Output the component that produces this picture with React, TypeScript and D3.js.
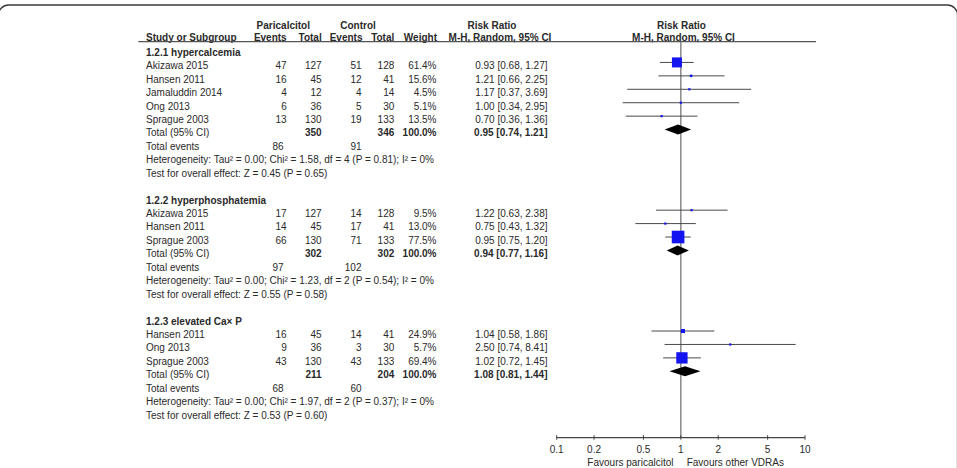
import React from "react";
import * as d3 from "d3";

// Subgroups and their studies
const groupTitles = ["1.2.1 hypercalcemia", "1.2.2 hyperphosphatemia", "1.2.3 elevated Ca× P"];
const studyNames = [
  ["Akizawa 2015", "Hansen 2011", "Jamaluddin 2014", "Ong 2013", "Sprague 2003"],
  ["Akizawa 2015", "Hansen 2011", "Sprague 2003"],
  ["Hansen 2011", "Ong 2013", "Sprague 2003"],
];
const paricalcitolEvents = [[47, 16, 4, 6, 13], [17, 14, 66], [16, 9, 43]];
const paricalcitolTotal = [[127, 45, 12, 36, 130], [127, 45, 130], [45, 36, 130]];
const controlEvents = [[51, 12, 4, 5, 19], [14, 17, 71], [14, 3, 43]];
const controlTotal = [[128, 41, 14, 30, 133], [128, 41, 133], [41, 30, 133]];
const weights = [[61.4, 15.6, 4.5, 5.1, 13.5], [9.5, 13.0, 77.5], [24.9, 5.7, 69.4]];
const riskRatio = [[0.93, 1.21, 1.17, 1.0, 0.7], [1.22, 0.75, 0.95], [1.04, 2.5, 1.02]];
const ciLower = [[0.68, 0.66, 0.37, 0.34, 0.36], [0.63, 0.43, 0.75], [0.58, 0.74, 0.72]];
const ciUpper = [[1.27, 2.25, 3.69, 2.95, 1.36], [2.38, 1.32, 1.2], [1.86, 8.41, 1.45]];

// Pooled results per subgroup
const pooledParTotal = [350, 302, 211];
const pooledCtrlTotal = [346, 302, 204];
const pooledRR = [0.95, 0.94, 1.08];
const pooledLower = [0.74, 0.77, 0.81];
const pooledUpper = [1.21, 1.16, 1.44];
const totalParEvents = [86, 97, 68];
const totalCtrlEvents = [91, 102, 60];
const heterogeneity = [
  "Heterogeneity: Tau² = 0.00; Chi² = 1.58, df = 4 (P = 0.81); I² = 0%",
  "Heterogeneity: Tau² = 0.00; Chi² = 1.23, df = 2 (P = 0.54); I² = 0%",
  "Heterogeneity: Tau² = 0.00; Chi² = 1.97, df = 2 (P = 0.37); I² = 0%",
];
const overallTest = [
  "Test for overall effect: Z = 0.45 (P = 0.65)",
  "Test for overall effect: Z = 0.55 (P = 0.58)",
  "Test for overall effect: Z = 0.53 (P = 0.60)",
];

const axisTicks = [0.1, 0.2, 0.5, 1, 2, 5, 10];

const W = 957;
const H = 468;
const FONT = "'Liberation Sans', Arial, Helvetica, sans-serif";
const TEXT = "#2a2a2a";

const fmt2 = d3.format(".2f");
const ciLabel = (r: number, l: number, u: number) => `${fmt2(r)} [${fmt2(l)}, ${fmt2(u)}]`;

type Row =
  | { kind: "title"; text: string }
  | { kind: "study"; g: number; s: number }
  | { kind: "total"; g: number }
  | { kind: "events"; g: number }
  | { kind: "het"; g: number }
  | { kind: "test"; g: number }
  | { kind: "blank" };

const rows: Row[] = [];
groupTitles.forEach((t, g) => {
  rows.push({ kind: "title", text: t });
  studyNames[g].forEach((_, s) => rows.push({ kind: "study", g, s }));
  rows.push({ kind: "total", g });
  rows.push({ kind: "events", g });
  rows.push({ kind: "het", g });
  rows.push({ kind: "test", g });
  if (g < groupTitles.length - 1) rows.push({ kind: "blank" });
});

export default function App() {
  const rowY = d3.scaleLinear().domain([0, 1]).range([52.3, 52.3 + 13.43]);
  const x = d3.scaleLog().domain([0.1, 10]).range([556.7, 805]);
  const axisY = 437.7;
  const headerLineY = 41.7;

  // column anchors (right-aligned numeric columns)
  const col = {
    label: 146,
    parEv: 286.7,
    parTot: 321.7,
    ctlEv: 361.5,
    ctlTot: 394.3,
    weight: 436.5,
    rr: 547.5,
  };

  const t = (props: any, content: React.ReactNode, key?: any) => (
    <text key={key} fontFamily={FONT} fontSize={10} fill={TEXT} {...props}>
      {content}
    </text>
  );

  const base = (i: number) => rowY(i) + 3.6;
  const markY = (i: number) => rowY(i) - 3.3;

  const elements: React.ReactNode[] = [];
  rows.forEach((r, i) => {
    const by = base(i);
    if (r.kind === "title") {
      elements.push(t({ x: col.label, y: by, fontWeight: "bold" }, r.text, `t${i}`));
    } else if (r.kind === "study") {
      const { g, s } = r;
      elements.push(
        <g key={`s${i}`}>
          {t({ x: col.label, y: by }, studyNames[g][s])}
          {t({ x: col.parEv, y: by, textAnchor: "end" }, paricalcitolEvents[g][s])}
          {t({ x: col.parTot, y: by, textAnchor: "end" }, paricalcitolTotal[g][s])}
          {t({ x: col.ctlEv, y: by, textAnchor: "end" }, controlEvents[g][s])}
          {t({ x: col.ctlTot, y: by, textAnchor: "end" }, controlTotal[g][s])}
          {t({ x: col.weight, y: by, textAnchor: "end" }, `${weights[g][s].toFixed(1)}%`)}
          {t({ x: col.rr, y: by, textAnchor: "end" }, ciLabel(riskRatio[g][s], ciLower[g][s], ciUpper[g][s]))}
        </g>
      );
    } else if (r.kind === "total") {
      const { g } = r;
      elements.push(
        <g key={`tot${i}`}>
          {t({ x: col.label, y: by }, "Total (95% CI)")}
          {t({ x: col.parTot, y: by, textAnchor: "end", fontWeight: "bold" }, pooledParTotal[g])}
          {t({ x: col.ctlTot, y: by, textAnchor: "end", fontWeight: "bold" }, pooledCtrlTotal[g])}
          {t({ x: col.weight, y: by, textAnchor: "end", fontWeight: "bold" }, "100.0%")}
          {t({ x: col.rr, y: by, textAnchor: "end", fontWeight: "bold" }, ciLabel(pooledRR[g], pooledLower[g], pooledUpper[g]))}
        </g>
      );
    } else if (r.kind === "events") {
      const { g } = r;
      elements.push(
        <g key={`ev${i}`}>
          {t({ x: col.label, y: by }, "Total events")}
          {t({ x: col.parEv - 3, y: by, textAnchor: "end" }, totalParEvents[g])}
          {t({ x: col.ctlEv, y: by, textAnchor: "end" }, totalCtrlEvents[g])}
        </g>
      );
    } else if (r.kind === "het") {
      elements.push(t({ x: col.label, y: by }, heterogeneity[r.g], `h${i}`));
    } else if (r.kind === "test") {
      elements.push(t({ x: col.label, y: by }, overallTest[r.g], `z${i}`));
    }
  });

  // forest marks
  const marks: React.ReactNode[] = [];
  rows.forEach((r, i) => {
    const my = markY(i);
    if (r.kind === "study") {
      const { g, s } = r;
      const side = Math.max(2.2, weights[g][s] * 0.163);
      const cx = x(riskRatio[g][s]);
      marks.push(
        <g key={`m${i}`}>
          <line x1={x(ciLower[g][s])} x2={x(ciUpper[g][s])} y1={my} y2={my} stroke="#4a4a4a" strokeWidth={1} />
          <rect x={cx - side / 2} y={my - side / 2} width={side} height={side} fill="#1414f0" />
        </g>
      );
    } else if (r.kind === "total") {
      const { g } = r;
      const l = x(pooledLower[g]);
      const u = x(pooledUpper[g]);
      const c = x(pooledRR[g]);
      const hh = 5;
      marks.push(
        <path key={`d${i}`} d={`M${l},${my}L${c},${my - hh}L${u},${my}L${c},${my + hh}Z`} fill="#000" />
      );
    }
  });

  return (
    <svg
      width={W}
      height={H}
      style={{ position: "absolute", left: 0, top: 0, display: "block", background: "#fff" }}
    >
      {/* frame: top edge with rounded corners, sides run just past the canvas */}
      <rect x={-1.5} y={5} width={959} height={520} rx={10} fill="none" stroke="#3a3a3a" strokeWidth={1.3} />

      {/* column headers */}
      {t({ x: 283.3, y: 28.5, textAnchor: "middle", fontWeight: "bold" }, "Paricalcitol")}
      {t({ x: 358, y: 28.5, textAnchor: "middle", fontWeight: "bold" }, "Control")}
      {t({ x: 492, y: 28.5, textAnchor: "middle", fontWeight: "bold" }, "Risk Ratio")}
      {t({ x: 681.5, y: 28.5, textAnchor: "middle", fontWeight: "bold" }, "Risk Ratio")}
      {t({ x: col.label, y: 40.5, fontWeight: "bold" }, "Study or Subgroup")}
      {t({ x: col.parEv, y: 40.5, textAnchor: "end", fontWeight: "bold" }, "Events")}
      {t({ x: col.parTot, y: 40.5, textAnchor: "end", fontWeight: "bold" }, "Total")}
      {t({ x: col.ctlEv + 1, y: 40.5, textAnchor: "end", fontWeight: "bold" }, "Events")}
      {t({ x: col.ctlTot, y: 40.5, textAnchor: "end", fontWeight: "bold" }, "Total")}
      {t({ x: col.weight + 0.5, y: 40.5, textAnchor: "end", fontWeight: "bold" }, "Weight")}
      {t({ x: 500, y: 40.5, textAnchor: "middle", fontWeight: "bold" }, "M-H, Random, 95% CI")}
      {t({ x: 683.5, y: 40.5, textAnchor: "middle", fontWeight: "bold" }, "M-H, Random, 95% CI")}
      <line x1={138.3} x2={816} y1={headerLineY} y2={headerLineY} stroke="#555" strokeWidth={1.2} />

      {elements}

      {/* line of no effect */}
      <line x1={x(1)} x2={x(1)} y1={headerLineY} y2={axisY} stroke="#6a6a6a" strokeWidth={1.2} />

      {marks}

      {/* axis */}
      <line x1={x(0.1)} x2={x(10)} y1={axisY} y2={axisY} stroke="#444" strokeWidth={1.2} />
      {axisTicks.map((v) => (
        <g key={`tk${v}`}>
          <line x1={x(v)} x2={x(v)} y1={axisY - 2.5} y2={axisY + 2} stroke="#444" strokeWidth={1} />
          {t({ x: x(v), y: axisY + 15, textAnchor: "middle" }, String(v))}
        </g>
      ))}
      {t({ x: 673.5, y: 465.5, textAnchor: "end" }, "Favours paricalcitol")}
      {t({ x: 686.7, y: 465.5 }, "Favours other VDRAs")}
    </svg>
  );
}
